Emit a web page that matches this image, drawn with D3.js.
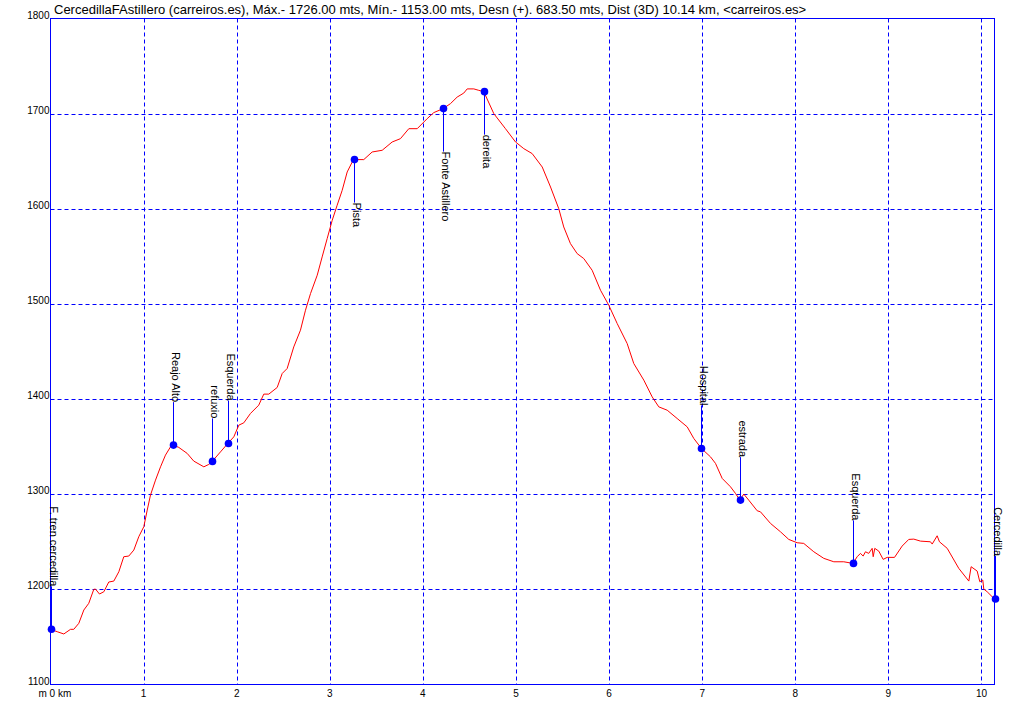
<!DOCTYPE html>
<html>
<head>
<meta charset="utf-8">
<script src="https://cdn.jsdelivr.net/npm/d3@7"></script>
<style>
html,body{margin:0;padding:0;background:#fff;}
svg{display:block;}
text{font-family:Arial,"Liberation Sans",sans-serif;fill:#000;}
</style>
</head>
<body>
<svg id="chart" width="1019" height="721"></svg>
<script>
const title = "CercedillaFAstillero (carreiros.es), Máx.- 1726.00 mts, Mín.- 1153.00 mts, Desn (+). 683.50 mts, Dist (3D) 10.14 km, <carreiros.es>";

const distKm = [0,0.072,0.143,0.215,0.250,0.304,0.358,0.411,0.465,0.483,0.526,0.573,0.626,0.680,0.734,0.787,0.841,0.895,0.948,1.002,1.039,1.074,1.128,1.182,1.235,1.289,1.320,1.378,1.468,1.539,1.647,1.700,1.737,1.826,1.904,1.969,2.023,2.076,2.148,2.237,2.291,2.345,2.435,2.489,2.542,2.613,2.685,2.739,2.793,2.865,2.918,2.972,3.026,3.079,3.133,3.187,3.241,3.258,3.365,3.455,3.563,3.670,3.759,3.849,3.939,4.046,4.117,4.218,4.296,4.368,4.439,4.476,4.547,4.600,4.654,4.762,4.887,4.995,5.084,5.174,5.282,5.371,5.460,5.513,5.585,5.657,5.728,5.818,5.908,5.997,6.087,6.194,6.265,6.373,6.463,6.534,6.624,6.731,6.839,6.910,6.992,7.089,7.143,7.215,7.304,7.358,7.404,7.447,7.500,7.591,7.626,7.734,7.841,7.930,8.020,8.091,8.199,8.306,8.414,8.521,8.618,8.665,8.700,8.729,8.754,8.789,8.826,8.837,8.854,8.897,8.944,8.987,9.066,9.148,9.219,9.273,9.345,9.452,9.471,9.524,9.549,9.632,9.756,9.864,9.889,9.954,9.982,10.014,10.025,10.061,10.140];
const elevM = [1158.0,1155.5,1153.1,1158.0,1158.0,1164.3,1178.3,1185.3,1200.0,1200.3,1195.1,1197.5,1207.7,1208.7,1218.5,1234.3,1235.0,1241.3,1255.3,1265.8,1283.3,1299.1,1314.8,1328.8,1341.1,1349.8,1351.6,1349.2,1342.9,1334.8,1328.8,1331.3,1334.5,1344.5,1353.3,1360.3,1372.6,1375.0,1384.9,1393.6,1405.2,1405.2,1412.2,1426.9,1432.1,1454.8,1472.4,1493.4,1510.9,1530.2,1549.4,1568.7,1587.9,1603.7,1619.4,1638.7,1649.2,1651.7,1651.7,1659.7,1661.5,1670.2,1673.7,1684.2,1684.2,1694.7,1701.1,1705.3,1710.5,1717.4,1721.6,1726.0,1726.0,1724.5,1723.1,1700.0,1684.2,1670.2,1663.2,1658.0,1643.9,1622.9,1600.0,1580.9,1563.4,1552.9,1547.7,1535.4,1514.4,1498.6,1479.4,1458.4,1437.4,1419.9,1402.3,1391.8,1388.3,1379.6,1370.8,1358.6,1348.1,1339.3,1332.4,1316.6,1307.8,1300.8,1293.8,1300.1,1293.8,1282.6,1281.5,1269.3,1260.5,1252.5,1249.0,1248.3,1239.5,1232.6,1229.0,1229.0,1227.3,1234.3,1237.8,1235.0,1239.5,1237.8,1243.1,1234.3,1243.1,1240.2,1231.5,1233.6,1233.6,1245.5,1252.5,1252.8,1250.7,1250.0,1247.6,1256.3,1250.0,1243.1,1222.1,1208.7,1223.8,1219.2,1208.0,1209.8,1200.3,1197.5,1189.8];

const wpNames = ["F. tren cercedilla","Reajo Alto","refuxio","Esquerda","Pista","Fonte Astillero","dereita","Hospital","estrada","Esquerda","Cercedilla"];
const wpKm = [0,1.320,1.737,1.904,3.258,4.218,4.654,6.992,7.404,8.618,10.140];
const wpElev = [1158.0,1351.6,1334.5,1353.3,1651.7,1705.3,1723.1,1348.1,1293.8,1227.3,1189.8];
const wpSide = ["up","up","up","up","down","down","down","up","up","up","up"];

const yTicks = [1100,1200,1300,1400,1500,1600,1700,1800];
const xTicks = [0,1,2,3,4,5,6,7,8,9,10];
const xTickLabels = ["m 0 km","1","2","3","4","5","6","7","8","9","10"];

const svg = d3.select("#chart");
const L = 50.5, R = 994.5, T = 18.5, B = 684.5;
const x = d3.scaleLinear().domain([0,10.14]).range([L,R]);
const y = d3.scaleLinear().domain([1100,1800]).range([B,T]);
const blue = "#0000ff";

// grid
svg.append("g").selectAll("line").data(yTicks.filter(v=>v>1100&&v<1800)).join("line")
  .attr("x1",L).attr("x2",R).attr("y1",d=>Math.round(y(d))+0.5).attr("y2",d=>Math.round(y(d))+0.5)
  .attr("stroke",blue).attr("stroke-width",1).attr("stroke-dasharray","4,3");
svg.append("g").selectAll("line").data(xTicks.filter(v=>v>0)).join("line")
  .attr("x1",d=>Math.round(x(d))+0.5).attr("x2",d=>Math.round(x(d))+0.5).attr("y1",T).attr("y2",B)
  .attr("stroke",blue).attr("stroke-width",1).attr("stroke-dasharray","4,3");

// frame
svg.append("rect").attr("x",L).attr("y",T).attr("width",R-L).attr("height",B-T)
  .attr("fill","none").attr("stroke",blue).attr("stroke-width",1);

// y tick labels
svg.append("g").selectAll("text").data(yTicks).join("text")
  .attr("x",L-1).attr("y",d=>y(d)).attr("text-anchor","end")
  .attr("font-size","10px").text(d=>d);

// x tick labels
svg.append("g").selectAll("text").data(xTicks).join("text")
  .attr("x",(d,i)=> i===0 ? x(d)-12 : x(d)).attr("y",B+12)
  .attr("text-anchor",(d,i)=> i===0 ? "start" : "middle")
  .attr("font-size","10px")
  .text((d,i)=> xTickLabels[i]);

// title
svg.append("text").attr("x",54).attr("y",14).attr("font-size","13px").text(title);

// profile
const pts = distKm.map((d,i)=>[d,elevM[i]]);
svg.append("path").datum(pts)
  .attr("d",d3.line().x(d=>x(d[0])).y(d=>y(d[1])))
  .attr("fill","none").attr("stroke","#ff0000").attr("stroke-width",1);

// waypoints
const off = 43;
const wp = svg.append("g");
wpNames.forEach((name,i)=>{
  const px = Math.round(x(wpKm[i]))+0.5, py = y(wpElev[i]);
  const ey = wpSide[i]==="up" ? py-off : py+off;
  wp.append("line").attr("x1",px).attr("x2",px).attr("y1",py).attr("y2",ey)
    .attr("stroke",blue).attr("stroke-width",1);
  wp.append("text")
    .attr("transform",`translate(${px-1.5},${ey}) rotate(90)`)
    .attr("text-anchor", wpSide[i]==="up" ? "end" : "start")
    .attr("font-size","11px").text(name);
});
wp.selectAll("circle").data(wpKm).join("circle")
  .attr("cx",(d)=>Math.round(x(d))+0.5).attr("cy",(d,i)=>y(wpElev[i]))
  .attr("r",3.8).attr("fill",blue);
</script>
</body>
</html>
